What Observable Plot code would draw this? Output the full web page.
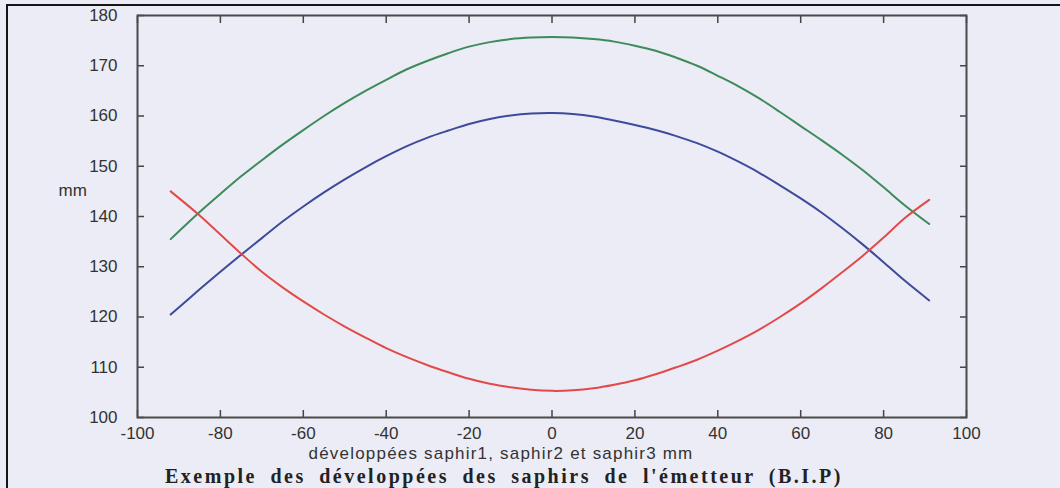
<!DOCTYPE html>
<html><head><meta charset="utf-8">
<script src="https://cdn.jsdelivr.net/npm/d3@7"></script>
<script src="https://cdn.jsdelivr.net/npm/@observablehq/plot@0.6"></script>
<style>
html,body{margin:0;padding:0;background:#ebecf5;overflow:hidden;}
body{width:1060px;height:488px;position:relative;}
#frame{position:absolute;left:6px;top:4px;right:-10px;bottom:-10px;border-left:2px solid #151515;border-top:2px solid #151515;pointer-events:none;}
#chart{position:absolute;left:0;top:0;}
#caption{position:absolute;left:165px;top:466px;font:bold 20px "Liberation Serif",serif;line-height:1;color:#222;white-space:nowrap;letter-spacing:2.5px;word-spacing:6px;}
.xlab text{letter-spacing:1.2px;}
</style></head><body>
<div id="chart"></div>
<div id="caption">Exemple des développées des saphirs de l'émetteur (B.I.P)</div>
<div id="frame"></div>
<script>
// x positions (mm)
const xs = [-92,-85,-80,-75,-70,-65,-60,-55,-50,-45,-40,-35,-30,-25,-20,-15,-10,-5,0,5,10,15,20,25,30,35,40,45,50,55,60,65,70,75,80,85,91];
// green curve
const green = [135.5,140.9,144.5,148,151.2,154.3,157.2,160,162.6,165,167.2,169.3,171,172.5,173.8,174.7,175.3,175.6,175.7,175.6,175.3,174.8,174,173,171.6,170,168,165.9,163.5,160.8,158,155.2,152.3,149.2,145.8,142.3,138.5];
// blue curve
const blue = [120.5,125.5,129,132.4,135.7,139,142,144.8,147.4,149.8,152,154,155.7,157.1,158.4,159.4,160.1,160.5,160.6,160.4,159.9,159.1,158.2,157.2,156,154.6,152.9,150.9,148.7,146.2,143.6,140.8,137.7,134.4,130.9,127.3,123.3];
// red curve
const red = [145,140.2,136.4,132.6,129,125.9,123.1,120.5,118.1,115.9,113.8,112,110.4,109,107.7,106.7,106,105.5,105.3,105.4,105.8,106.5,107.4,108.6,110,111.5,113.3,115.3,117.5,120,122.7,125.7,128.9,132.2,135.8,139.6,143.3];

const seriesNames = ["saphir1","saphir2","saphir3"];
const seriesColors = ["#3d8a5a","#3e4a9a","#e24a4a"];
const xTicks = [-100,-80,-60,-40,-20,0,20,40,60,80,100];
const yTicks = [100,110,120,130,140,150,160,170,180];
const yLabel = "mm";
const xLabel = "développées saphir1, saphir2 et saphir3 mm";

const rows = [];
[green, blue, red].forEach((arr, k) => arr.forEach((v, i) => rows.push({x: xs[i], v, s: seriesNames[k]})));

const fmt = d => String(d);
const chart = Plot.plot({
  width: 1060, height: 470,
  marginLeft: 137, marginRight: 94, marginTop: 15, marginBottom: 53,
  style: {background: "transparent", fontFamily: "'Liberation Sans', Arial, sans-serif", fontSize: "17px", color: "#333"},
  x: {domain: [-100, 100]},
  y: {domain: [100, 180]},
  color: {domain: seriesNames, range: seriesColors},
  marks: [
    Plot.axisX(xTicks, {anchor: "bottom", tickSize: 0, tickPadding: 9, tickFormat: fmt, label: null, fill: "#333"}),
    Plot.axisY(yTicks, {anchor: "left", tickSize: 0, tickPadding: 20, tickFormat: fmt, label: null, fill: "#333"}),
    Plot.axisX(xTicks, {anchor: "bottom", tickSize: -7, fill: "none", label: null, stroke: "#444", strokeWidth: 1.5}),
    Plot.axisX(xTicks, {anchor: "top", tickSize: -7, fill: "none", label: null, stroke: "#444", strokeWidth: 1.5}),
    Plot.axisY(yTicks, {anchor: "left", tickSize: -7, fill: "none", label: null, stroke: "#444", strokeWidth: 1.5}),
    Plot.axisY(yTicks, {anchor: "right", tickSize: -7, fill: "none", label: null, stroke: "#444", strokeWidth: 1.5}),
    Plot.frame({stroke: "#4a4a4a", strokeWidth: 2}),
    Plot.line(rows, {x: "x", y: "v", z: "s", stroke: "s", strokeWidth: 2, curve: "catmull-rom"}),
    Plot.text([yLabel], {text: d => d, frameAnchor: "left", dx: -79, dy: -26, fill: "#333"}),
    Plot.text([xLabel], {text: d => d, frameAnchor: "bottom", dx: -51, dy: 41, fill: "#333", className: "xlab"})
  ]
});
document.getElementById("chart").append(chart);
</script>
</body></html>
